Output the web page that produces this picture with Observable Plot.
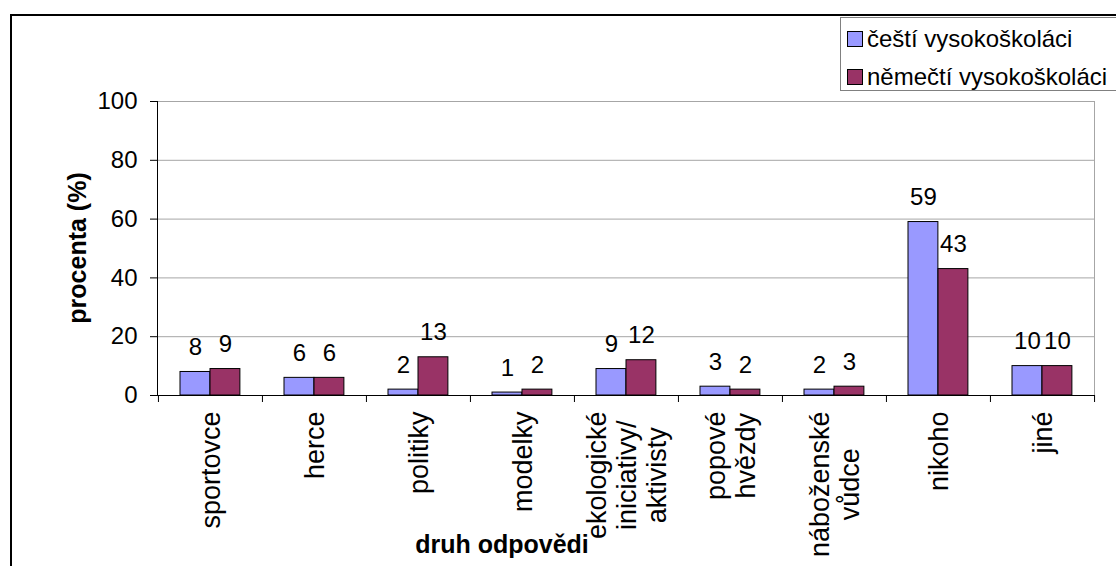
<!DOCTYPE html>
<html>
<head>
<meta charset="utf-8">
<script src="https://cdn.jsdelivr.net/npm/d3@7"></script>
<script src="https://cdn.jsdelivr.net/npm/@observablehq/plot@0.6"></script>
<style>
  html, body { margin: 0; padding: 0; background: #fff; }
  #wrap { position: relative; width: 1116px; height: 566px; overflow: hidden; font-family: "Liberation Sans", Arial, sans-serif; color: #000; }
  #outer { position: absolute; left: 10px; top: 14px; width: 1200px; height: 700px; border-top: 2px solid #000; border-left: 2px solid #000; }
  #chart { position: absolute; left: 0; top: 0; }
  #legend { position: absolute; left: 840px; top: 17px; width: 300px; height: 72px; border: 1px solid #808080; background: #fff; }
  .item { position: absolute; left: 6px; height: 24px; line-height: 24px; display: flex; align-items: center; font-size: 24px; white-space: nowrap; }
  .sw { width: 14px; height: 14px; border: 1px solid #000; margin-right: 4px; }
  #ytitle { position: absolute; left: 77px; top: 248px; transform: translate(-50%, -50%) rotate(-90deg); font-weight: bold; font-size: 25px; white-space: nowrap; line-height: 25px; }
  #xtitle { position: absolute; left: 502px; top: 532px; transform: translateX(-50%); font-weight: bold; font-size: 25px; white-space: nowrap; line-height: 25px; }
</style>
</head>
<body>
<div id="wrap">
  <div id="outer"></div>
  <div id="chart"></div>
  <div id="ytitle"></div>
  <div id="xtitle"></div>
  <div id="legend"></div>
</div>
<script>
// ---- data ----
const categories = ["sportovce", "herce", "politiky", "modelky", "ekologické\niniciativy/\naktivisty", "popové\nhvězdy", "náboženské\nvůdce", "nikoho", "jiné"];
const seriesNames = ["čeští vysokoškoláci", "němečtí vysokoškoláci"];
const czechValues = [8, 6, 2, 1, 9, 3, 2, 59, 10];
const germanValues = [9, 6, 13, 2, 12, 2, 3, 43, 10];
const yTicks = [0, 20, 40, 60, 80, 100];
const yTitle = "procenta (%)";
const xTitle = "druh odpovědi";

const colors = ["#9999ff", "#993366"];

const czech = categories.map((c, i) => ({cat: c, value: czechValues[i]}));
const german = categories.map((c, i) => ({cat: c, value: germanValues[i]}));

const bw = (1116 - 157 - 22) / categories.length;
const off = bw / 2;

// measure category label lines so multi-line labels can be centred like the original
const catFont = 27;
const ctx = document.createElement("canvas").getContext("2d");
ctx.font = `${catFont}px 'Liberation Sans', Arial, sans-serif`;
const labelWidth = c => d3.max(c.split("\n"), s => ctx.measureText(s).width);

const categoryLabels = categories.map(c =>
  Plot.text([c], {
    x: d => d,
    frameAnchor: "bottom",
    text: d => d,
    rotate: -90,
    textAnchor: "middle",
    lineAnchor: "middle",
    lineHeight: 1.11,
    fontSize: catFont,
    fill: "#000",
    dy: 16 + labelWidth(c) / 2
  })
);

const chart = Plot.plot({
  width: 1116,
  height: 566,
  marginLeft: 157,
  marginRight: 22,
  marginTop: 101,
  marginBottom: 171,
  style: {fontFamily: "'Liberation Sans', Arial, sans-serif", fontSize: "24px", background: "transparent", color: "#000", overflow: "visible"},
  x: {domain: categories, padding: 0, axis: null},
  y: {domain: [0, 100], axis: null},
  marks: [
    Plot.gridY(yTicks, {stroke: "#a6a6a6", strokeOpacity: 1}),
    Plot.frame({anchor: "right", stroke: "#a6a6a6"}),
    Plot.barY(czech, {x: "cat", y: "value", fill: colors[0], stroke: "#000", strokeWidth: 1, insetLeft: 22, insetRight: bw - 52}),
    Plot.barY(german, {x: "cat", y: "value", fill: colors[1], stroke: "#000", strokeWidth: 1, insetLeft: 52, insetRight: bw - 82}),
    Plot.text(czech, {x: "cat", y: "value", text: d => String(d.value), dx: -(off - 37), dy: -17, lineAnchor: "bottom", fontSize: 24, fill: "#000"}),
    Plot.text(german, {x: "cat", y: "value", text: d => String(d.value), dx: 67 - off, dy: -17, lineAnchor: "bottom", fontSize: 24, fill: "#000"}),
    Plot.frame({anchor: "left", stroke: "#000"}),
    Plot.frame({anchor: "bottom", stroke: "#000"}),
    Plot.axisY(yTicks, {anchor: "left", tickSize: 7, tickPadding: 13, fontSize: 24, label: null, color: "#000"}),
    ...categoryLabels,
    Plot.axisX({anchor: "bottom", tickSize: 7, fill: "none", stroke: "#000", dx: -off, label: null}),
    Plot.axisX([categories[categories.length - 1]], {anchor: "bottom", tickSize: 7, fill: "none", stroke: "#000", dx: off, label: null})
  ]
});
document.getElementById("chart").appendChild(chart);

document.getElementById("ytitle").textContent = yTitle;
document.getElementById("xtitle").textContent = xTitle;

const legend = document.getElementById("legend");
seriesNames.forEach((name, i) => {
  const item = document.createElement("div");
  item.className = "item";
  item.style.top = (9 + i * 38) + "px";
  const sw = document.createElement("span");
  sw.className = "sw";
  sw.style.background = colors[i];
  const label = document.createElement("span");
  label.textContent = name;
  item.appendChild(sw);
  item.appendChild(label);
  legend.appendChild(item);
});
</script>
</body>
</html>
